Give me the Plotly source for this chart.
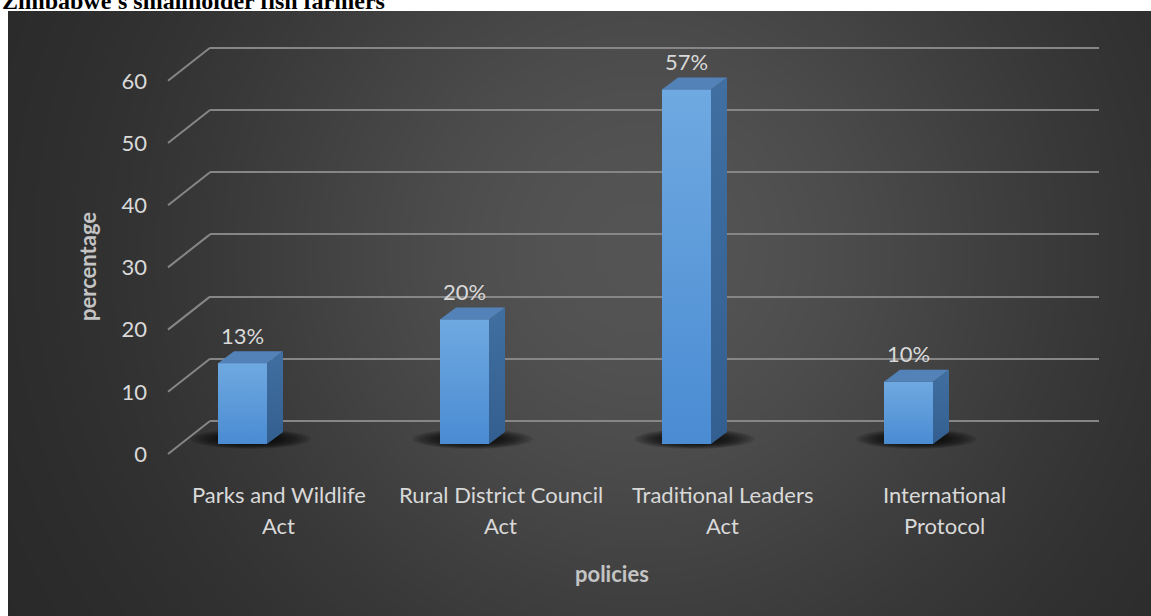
import numpy as np
import plotly.graph_objects as go

# ---- data ------------------------------------------------------------
categories = ["Parks and Wildlife<br>Act", "Rural District Council<br>Act",
              "Traditional Leaders<br>Act", "International<br>Protocol"]
values = [13, 20, 57, 10]
value_labels = ["13%", "20%", "57%", "10%"]
y_ticks = [0, 10, 20, 30, 40, 50, 60]
title_text = "Zimbabwe's smallholder fish farmers"
x_title = "policies"
y_title = "percentage"

# ---- frame geometry (pixels) ----------------------------------------
W, H = 1151, 616
LEFT, TOP = 8, 11            # white margin around the dark chart area
X0, STEP = 242.5, 222.0      # first bar centre, spacing between categories
Y0, PPU = 444.0, 6.22        # zero of the bar front plane, px per unit
BAR_W = 49                   # front face width
BAR_DX, BAR_DY = 16, 12      # bar depth
WALL_DY = 23                 # back wall sits this far behind the bars
FRONT_DY = 10                # front edge of the side wall, in front of bars
WALL_X_FRONT, WALL_X_BACK, WALL_X_END = 168, 210, 1099

LABEL_COLOR = "#d9d9d9"
TITLE_COLOR = "#c4c4c4"
GRID_COLOR = "#868686"
FONT = "Lato"
FS = 22


def dx(px):
    return px / STEP


def dy(px):
    return px / PPU


def xdata(px):
    return (px - X0) / STEP


def ydata(py):
    return (Y0 - py) / PPU


fig = go.Figure()

# ---- radial background ----------------------------------------------
gx = np.linspace(LEFT, W, 90)
gy = np.linspace(TOP, H, 50)
XX, YY = np.meshgrid(gx, gy)
dist = np.hypot(XX - 640, YY - 250)
shade = 38 + 46 * np.exp(-(dist / 450.0) ** 2)
fig.add_trace(go.Heatmap(
    x=gx, y=gy, z=shade, zmin=0, zmax=255, zsmooth="best",
    colorscale=[[0, "rgb(0,0,0)"], [1, "rgb(255,255,255)"]],
    showscale=False, hoverinfo="skip", xaxis="x", yaxis="y"))

# back wall gridlines come from the y2 axis of this subplot
fig.add_trace(go.Scatter(x=[], y=[], xaxis="x2", yaxis="y2",
                         hoverinfo="skip", showlegend=False))

# ---- side wall diagonals --------------------------------------------
diag_x, diag_y = [], []
for t in y_ticks:
    diag_x += [xdata(WALL_X_FRONT), xdata(WALL_X_BACK), None]
    diag_y += [t - dy(FRONT_DY), t + dy(WALL_DY), None]
fig.add_trace(go.Scatter(x=diag_x, y=diag_y, mode="lines",
                         line=dict(color=GRID_COLOR, width=2),
                         hoverinfo="skip", showlegend=False,
                         xaxis="x3", yaxis="y3"))

half = dx(BAR_W) / 2
ddx, ddy = dx(BAR_DX), dy(BAR_DY)

# ---- soft floor shadows (nested flat ellipses) -----------------------
theta = np.linspace(0, 2 * np.pi, 60)
for i, v in enumerate(values):
    cx, cy = i + dx(8), dy(5)
    for k in range(9):
        rx, ry = dx(60 - 4 * k), dy(10 - 0.6 * k)
        fig.add_trace(go.Scatter(
            x=cx + rx * np.cos(theta), y=cy + ry * np.sin(theta),
            fill="toself", mode="lines", line=dict(width=0),
            fillcolor="rgba(0,0,0,0.12)", hoverinfo="skip",
            showlegend=False, xaxis="x3", yaxis="y3"))

# ---- bars: front faces ----------------------------------------------
fig.add_trace(go.Bar(x=list(range(len(values))), y=values,
                     width=dx(BAR_W), marker=dict(color="#5b9bd9", line=dict(width=0)),
                     hoverinfo="skip", showlegend=False,
                     xaxis="x3", yaxis="y3"))

for i, v in enumerate(values):
    xl, xr = i - half, i + half
    # front face shading
    fig.add_trace(go.Scatter(
        x=[xl, xr, xr, xl, xl], y=[0, 0, v, v, 0],
        fill="toself", mode="lines", line=dict(width=0),
        fillgradient=dict(type="vertical", start=0, stop=v,
                          colorscale=[[0, "#4a8bd2"], [1, "#6fa9e1"]]),
        hoverinfo="skip", showlegend=False, xaxis="x3", yaxis="y3"))
    # right side face
    fig.add_trace(go.Scatter(
        x=[xr, xr + ddx, xr + ddx, xr, xr], y=[0, ddy, v + ddy, v, 0],
        fill="toself", mode="lines", line=dict(width=0),
        fillgradient=dict(type="vertical", start=0, stop=v + ddy,
                          colorscale=[[0, "#335f90"], [1, "#416fa1"]]),
        hoverinfo="skip", showlegend=False, xaxis="x3", yaxis="y3"))
    # top face
    fig.add_trace(go.Scatter(
        x=[xl, xr, xr + ddx, xl + ddx, xl], y=[v, v, v + ddy, v + ddy, v],
        fill="toself", mode="lines", line=dict(width=0),
        fillcolor="#5282b8", hoverinfo="skip", showlegend=False,
        xaxis="x3", yaxis="y3"))

# ---- value labels ---------------------------------------------------
fig.add_trace(go.Scatter(
    x=list(range(len(values))), y=[v + dy(25) for v in values],
    mode="text", text=value_labels,
    textfont=dict(family=FONT, size=FS, color=LABEL_COLOR),
    hoverinfo="skip", showlegend=False, xaxis="x3", yaxis="y3"))

# front tick labels axis
fig.add_trace(go.Scatter(x=[], y=[], xaxis="x3", yaxis="y4",
                         hoverinfo="skip", showlegend=False))

# ---- category labels ------------------------------------------------
annotations = []
for i, c in enumerate(categories):
    for j, line in enumerate(c.split("<br>")):
        annotations.append(dict(
            x=i + dx(36), y=ydata(494 + 31 * j), xref="x3", yref="y3",
            text=line, showarrow=False, xanchor="center", yanchor="middle",
            font=dict(family=FONT, size=FS, color=LABEL_COLOR)))

annotations += [
    dict(x=612 / W, y=1 - 573 / H, xref="paper", yref="paper",
         xanchor="center", yanchor="middle",
         text="<b>%s</b>" % x_title, showarrow=False,
         font=dict(family=FONT, size=FS, color=TITLE_COLOR)),
    dict(x=87 / W, y=1 - 267 / H, xref="paper", yref="paper",
         xanchor="center", yanchor="middle",
         text="<b>%s</b>" % y_title, showarrow=False, textangle=-90,
         font=dict(family=FONT, size=FS, color=TITLE_COLOR)),
    dict(x=0, y=1 - 16 / H, xref="paper", yref="paper",
         xanchor="left", yanchor="bottom",
         text="<b>%s</b>" % title_text, showarrow=False,
         font=dict(family="Liberation Serif", size=24, color="black")),
]

hidden = dict(visible=False, fixedrange=True)

fig.update_layout(
    width=W, height=H,
    margin=dict(l=0, r=0, t=0, b=0),
    paper_bgcolor="white", plot_bgcolor="rgba(0,0,0,0)",
    showlegend=False,
    xaxis=dict(hidden, domain=[LEFT / W, 1], range=[LEFT, W]),
    yaxis=dict(hidden, domain=[0, 1 - TOP / H], range=[H, TOP]),
    xaxis2=dict(hidden, domain=[WALL_X_BACK / W, WALL_X_END / W],
                range=[0, 1], anchor="y2"),
    yaxis2=dict(domain=[0, 1], anchor="x2",
                range=[(Y0 - WALL_DY - H) / PPU, (Y0 - WALL_DY) / PPU],
                tickvals=y_ticks, showticklabels=False, ticks="",
                showgrid=True, gridcolor=GRID_COLOR, gridwidth=2,
                zeroline=False, showline=False, fixedrange=True),
    xaxis3=dict(hidden, domain=[0, 1], anchor="y3",
                range=[xdata(0), xdata(W)]),
    yaxis3=dict(hidden, domain=[0, 1], anchor="x3",
                range=[ydata(H), ydata(0)]),
    yaxis4=dict(overlaying="y3", anchor="free", position=147 / W,
                range=[(Y0 + FRONT_DY - H) / PPU, (Y0 + FRONT_DY) / PPU],
                tickvals=y_ticks, ticks="", showgrid=False, zeroline=False,
                showline=False, fixedrange=True,
                tickfont=dict(family=FONT, size=FS, color=LABEL_COLOR)),
    annotations=annotations,
)

fig.write_html("out.html")
